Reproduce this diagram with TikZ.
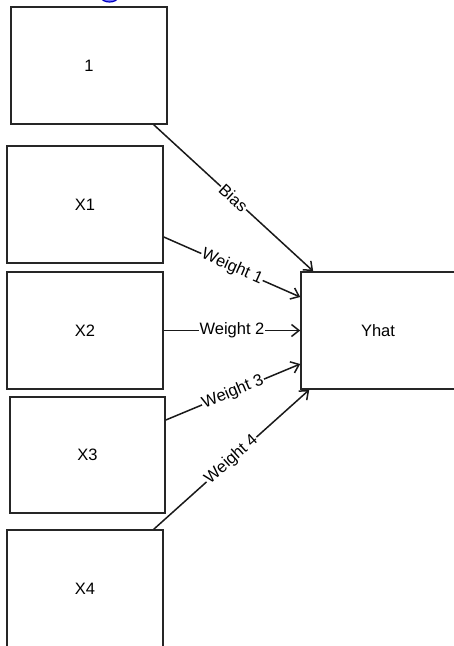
\documentclass[tikz,border=0pt]{standalone}
\usepackage{fontspec}
\setmainfont{Liberation Sans}
\usetikzlibrary{arrows.meta,calc}
\begin{document}
\begin{tikzpicture}[x=1pt,y=-1pt,
  box/.style={draw=black!85,line width=1.6pt,fill=white,minimum width=156pt,minimum height=117pt,inner sep=0pt,font=\fontsize{16.5}{19}\selectfont},
  link/.style={draw=black!90,line width=1.5pt,-{Straight Barb[length=7.5pt,width=12pt,line width=1.5pt]}},
  wlabel/.style={midway,sloped,fill=white,inner sep=1pt,font=\fontsize{16.5}{19}\selectfont}]
  \useasboundingbox (0,0) rectangle (454,646);
  % small blue marker at the top edge
  \draw[draw=blue!75!black,fill=blue!55,line width=1.2pt] (109.5,-3) ellipse [x radius=8.5pt,y radius=5pt];
  % input boxes
  \node[box] (b0) at (89,65.5) {1};
  \node[box] (x1) at (85,204.5) {X1};
  \node[box] (x2) at (85,330.5) {X2};
  \node[box,minimum width=155pt,minimum height=116pt] (x3) at (87.5,455) {X3};
  \node[box] (x4) at (85,588.5) {X4};
  % output box
  \node[box,minimum width=160pt] (yh) at (381,330.5) {\hspace*{-6pt}Yhat};
  % weighted connections
  \draw[link] ([xshift=-14pt]b0.south east) -- node[wlabel]{Bias} ([xshift=13pt]yh.north west);
  \draw[link] ([yshift=-32.5pt]x1.east) -- node[wlabel]{Weight 1} ([yshift=33.5pt]yh.west);
  \draw[link] (x2.east) -- node[wlabel]{Weight 2} (yh.west);
  \draw[link] ([yshift=35pt]x3.east) -- node[wlabel]{Weight 3} ([yshift=-33.5pt]yh.west);
  \draw[link] ([xshift=-10pt]x4.north east) -- node[wlabel]{Weight 4} ([xshift=9pt]yh.south west);
\end{tikzpicture}
\end{document}
